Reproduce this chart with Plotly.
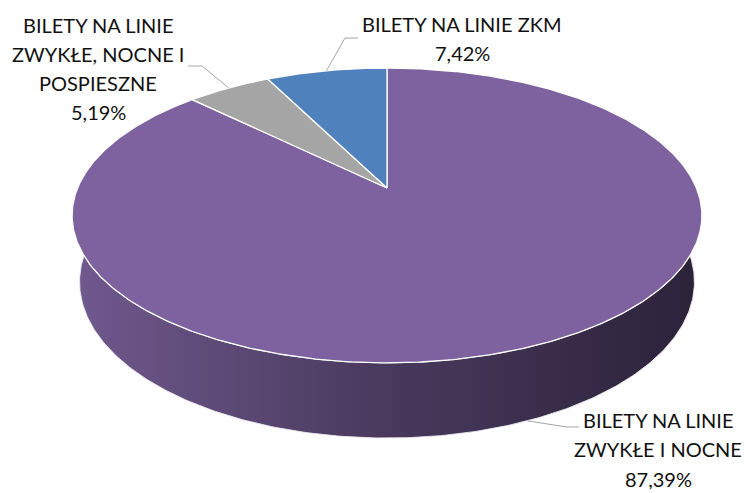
import math
import numpy as np
import plotly.graph_objects as go

# ---- data ----
categories = [
    "BILETY NA LINIE ZWYKŁE I NOCNE",
    "BILETY NA LINIE ZWYKŁE, NOCNE I POSPIESZNE",
    "BILETY NA LINIE ZKM",
]
values = [87.39, 5.19, 7.42]
label_lines = [
    ["BILETY NA LINIE", "ZWYKŁE I NOCNE"],
    ["BILETY NA LINIE", "ZWYKŁE, NOCNE I", "POSPIESZNE"],
    ["BILETY NA LINIE ZKM"],
]
colors = ["#7E62A0", "#A5A5A5", "#4F81BD"]

# ---- 3D pie projection (pixel space) ----
W, H_PX = 746, 493
CX, CY = 387.0, 188.0
F = 1476.0
D = 4.77
SIN_PHI = 0.46
COS_PHI = math.sqrt(1 - SIN_PHI ** 2)
DEPTH = 0.244


def proj(theta_deg, z=0.0, r=1.0):
    th = np.radians(theta_deg)
    X = r * np.sin(th)
    Y = r * np.cos(th)
    u = Y * SIN_PHI + z * COS_PHI
    w = D + Y * COS_PHI - z * SIN_PHI
    return CX + F * X / w, CY - F * u / w


total = sum(values)
starts, ends = [], []
acc = 0.0
for v in values:
    starts.append(acc / total * 360.0)
    acc += v
    ends.append(acc / total * 360.0)

fig = go.Figure()

# side wall (front, visible part) of the big slice
th_side = np.linspace(80, 280, 300)
tx, ty = proj(th_side, 0.0)
bx, by = proj(th_side[::-1], -DEPTH)
fig.add_trace(go.Scatter(
    x=np.concatenate([tx, bx, tx[:1]]),
    y=np.concatenate([ty, by, ty[:1]]),
    mode="lines", fill="toself",
    line=dict(color="rgba(235,235,240,0.9)", width=1),
    fillgradient=dict(type="horizontal",
                      colorscale=[[0, "#70598E"], [0.45, "#4C3C61"], [1, "#2B2239"]]),
    hoverinfo="skip", showlegend=False,
))

# top faces of slices
for name, s, e, c in zip(categories, starts, ends, colors):
    n = max(int((e - s) * 2), 8)
    th = np.linspace(s, e, n)
    ax_, ay_ = proj(th, 0.0)
    xs = np.concatenate([[CX], ax_, [CX]])
    ys = np.concatenate([[CY], ay_, [CY]])
    fig.add_trace(go.Scatter(
        x=xs, y=ys, mode="lines", fill="toself", fillcolor=c,
        line=dict(color="white", width=1.3),
        hoverinfo="skip", showlegend=False, name=name,
    ))

# ---- labels with leader lines ----
label_cfg = [
    dict(z=-DEPTH, elbow=(567, 427), end=(579, 427), tx=658, ty=420.5),
    dict(z=0.0, elbow=(202, 66), end=(188, 66), tx=98, ty=25.0),
    dict(z=0.0, elbow=(345, 38), end=(358, 38), tx=462, ty=24.5),
]
LINE_STEP = 29.3
annotations = []
for v, s, e, lines, cfg in zip(values, starts, ends, label_lines, label_cfg):
    mid = (s + e) / 2
    axp, ayp = proj(mid, cfg["z"])
    fig.add_trace(go.Scatter(
        x=[float(axp), cfg["elbow"][0], cfg["end"][0]],
        y=[float(ayp), cfg["elbow"][1], cfg["end"][1]],
        mode="lines", line=dict(color="#A6A6A6", width=1),
        hoverinfo="skip", showlegend=False,
    ))
    pct = f"{v:.2f}".replace(".", ",") + "%"
    for i, t in enumerate(lines + [pct]):
        annotations.append(dict(
            x=cfg["tx"], y=cfg["ty"] + i * LINE_STEP - 0.5, text=t,
            xref="x", yref="y", showarrow=False,
            xanchor="center", yanchor="middle",
            font=dict(family="Lato", size=20, color="#111111"),
        ))

fig.update_layout(
    width=W, height=H_PX,
    margin=dict(l=0, r=0, t=0, b=0),
    paper_bgcolor="white", plot_bgcolor="white",
    xaxis=dict(range=[0, W], visible=False, fixedrange=True),
    yaxis=dict(range=[H_PX, 0], visible=False, fixedrange=True),
    annotations=annotations,
)

fig.write_html("out.html", config={"displayModeBar": False},
               post_script="document.body.style.margin='0';")
